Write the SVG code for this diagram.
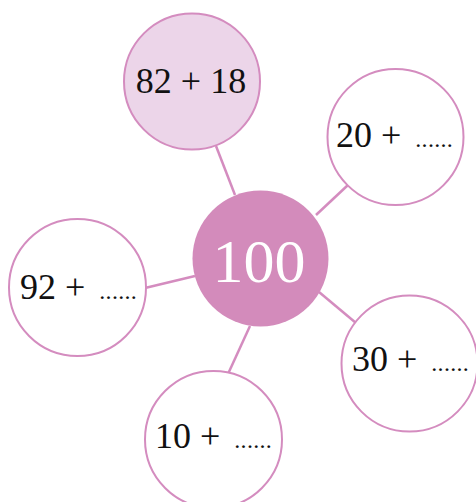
<svg xmlns="http://www.w3.org/2000/svg" width="476" height="502" viewBox="0 0 476 502">
<style>
.c{fill:#fff;stroke:#d48cbf;stroke-width:2}
.t{font-family:"Liberation Serif","DejaVu Serif",serif;font-size:36px;fill:#111}
.d{font-size:24px;letter-spacing:0.3px}
line{stroke:#d48cbf;stroke-width:2.5}
</style>
<rect width="476" height="502" fill="#fff"/>
<g id="connectors">
<line x1="216" y1="146" x2="235" y2="195"/>
<line x1="316" y1="215" x2="348" y2="185"/>
<line x1="145" y1="288" x2="195" y2="276"/>
<line x1="319" y1="292" x2="356" y2="323"/>
<line x1="250" y1="326" x2="228" y2="374"/>
</g>
<g id="n-top">
<circle class="c" cx="192" cy="81.5" r="68" style="fill:#ecd5e9"/>
<text class="t" x="191" y="93" text-anchor="middle">82 + 18</text>
</g>
<g id="n-righttop">
<circle class="c" cx="395.5" cy="137" r="68"/>
<text class="t" x="336" y="147">20 + <tspan class="d" dx="5">......</tspan></text>
</g>
<g id="n-left">
<circle class="c" cx="77.5" cy="287.5" r="68.5"/>
<text class="t" x="20" y="299">92 + <tspan class="d" dx="5">......</tspan></text>
</g>
<g id="n-rightbottom">
<circle class="c" cx="409.5" cy="363.5" r="68"/>
<text class="t" x="352" y="371">30 + <tspan class="d" dx="5">......</tspan></text>
</g>
<g id="n-bottom">
<circle class="c" cx="213.5" cy="439.5" r="68.5"/>
<text class="t" x="155" y="448">10 + <tspan class="d" dx="5">......</tspan></text>
</g>
<g id="n-center">
<circle cx="260.5" cy="258.5" r="68" fill="#d38bbb"/>
<text x="259" y="282" text-anchor="middle" style="font-family:'Liberation Serif','DejaVu Serif',serif;font-size:62px;fill:#fff">100</text>
</g>
</svg>
